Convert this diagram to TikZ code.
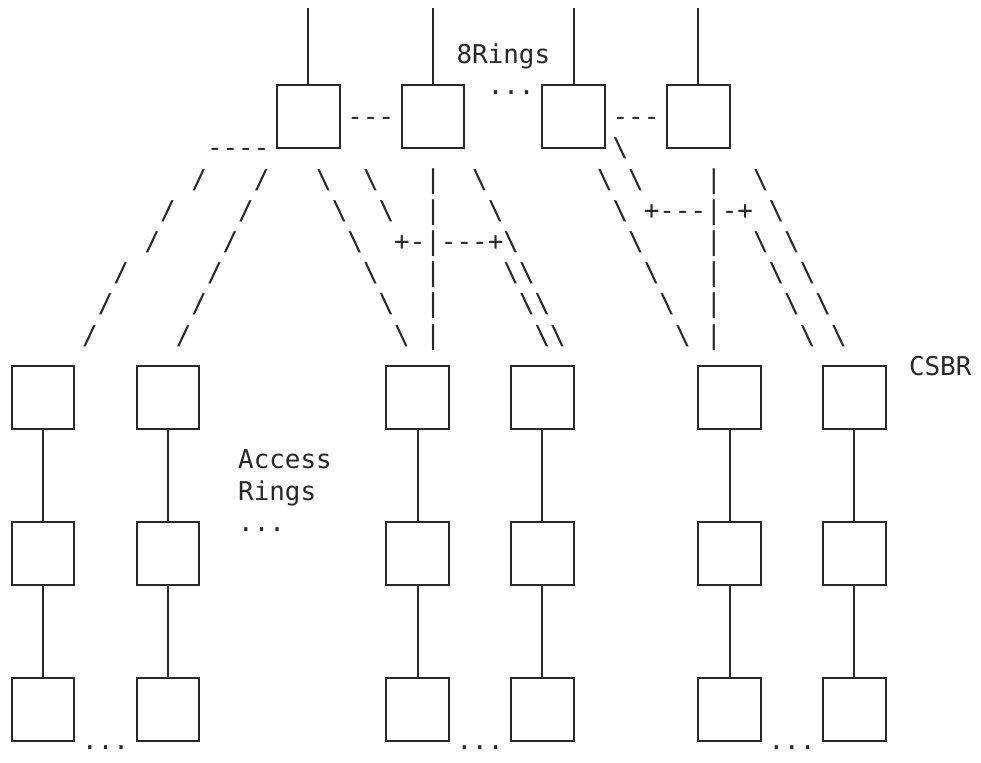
\documentclass[tikz,border=0pt]{standalone}
\usepackage{fontspec}
\setmonofont{DejaVu Sans Mono}
\definecolor{ink}{RGB}{40,40,40}
\tikzset{
  glyph/.style={font=\ttfamily\fontsize{25.9}{31.2}\selectfont, text=ink, inner sep=0pt, outer sep=0pt, anchor=base west},
  ringbox/.style={draw=ink, line width=2pt, rectangle, minimum width=62.4pt, minimum height=62.4pt, inner sep=0pt},
  link/.style={draw=ink, line width=2pt}
}
\newcommand\gl[3]{\node[glyph] (g-#1-#2) at ({4.2+15.6*#1},{32+31.2*#2}) {#3};}
\newcommand\bsl{\textbackslash}
\begin{document}
\begin{tikzpicture}[x=1pt,y=-1pt]
\useasboundingbox (0,0) rectangle (981,762);
% top ring boxes
\node[ringbox] (T1) at (308.4,116.6) {};
\node[ringbox] (T2) at (433.2,116.6) {};
\node[ringbox] (T3) at (573.6,116.6) {};
\node[ringbox] (T4) at (698.4,116.6) {};
\coordinate (u1) at (308.4,8);
\coordinate (u2) at (433.2,8);
\coordinate (u3) at (573.6,8);
\coordinate (u4) at (698.4,8);
\draw[link] (u1) -- (T1.north);
\draw[link] (u2) -- (T2.north);
\draw[link] (u3) -- (T3.north);
\draw[link] (u4) -- (T4.north);
% access ring chains
\foreach \n/\x in {a/43.2,b/168,c/417.6,d/542.4,e/729.6,f/854.4}{
  \node[ringbox] (\n1) at (\x,397.4) {};
  \node[ringbox] (\n2) at (\x,553.4) {};
  \node[ringbox] (\n3) at (\x,709.4) {};
  \draw[link] (\n1) -- (\n2);
  \draw[link] (\n2) -- (\n3);
}
% labels and ascii connectors
\gl{29}{1}{8Rings}
\gl{31}{2}{...}
\gl{22}{3}{---}
\gl{39}{3}{---}
\gl{13}{4}{----}
\gl{39}{4}{\bsl}
% row 5
\gl{12}{5}{/}\gl{16}{5}{/}\gl{20}{5}{\bsl}\gl{23}{5}{\bsl}\gl{27}{5}{|}\gl{30}{5}{\bsl}
\gl{38}{5}{\bsl}\gl{40}{5}{\bsl}\gl{45}{5}{|}\gl{48}{5}{\bsl}
% row 6
\gl{10}{6}{/}\gl{15}{6}{/}\gl{21}{6}{\bsl}\gl{24}{6}{\bsl}\gl{27}{6}{|}\gl{31}{6}{\bsl}
\gl{39}{6}{\bsl}\gl{41}{6}{+---|-+}\gl{49}{6}{\bsl}
% row 7
\gl{9}{7}{/}\gl{14}{7}{/}\gl{22}{7}{\bsl}\gl{25}{7}{+-|---+\bsl}
\gl{40}{7}{\bsl}\gl{45}{7}{|}\gl{48}{7}{\bsl}\gl{50}{7}{\bsl}
% row 8
\gl{7}{8}{/}\gl{13}{8}{/}\gl{23}{8}{\bsl}\gl{27}{8}{|}\gl{32}{8}{\bsl\bsl}
\gl{41}{8}{\bsl}\gl{45}{8}{|}\gl{49}{8}{\bsl}\gl{51}{8}{\bsl}
% row 9
\gl{6}{9}{/}\gl{12}{9}{/}\gl{24}{9}{\bsl}\gl{27}{9}{|}\gl{33}{9}{\bsl\bsl}
\gl{42}{9}{\bsl}\gl{45}{9}{|}\gl{50}{9}{\bsl}\gl{52}{9}{\bsl}
% row 10
\gl{5}{10}{/}\gl{11}{10}{/}\gl{25}{10}{\bsl}\gl{27}{10}{|}\gl{34}{10}{\bsl\bsl}
\gl{43}{10}{\bsl}\gl{45}{10}{|}\gl{51}{10}{\bsl}\gl{53}{10}{\bsl}
% side labels
\gl{58}{11}{CSBR}
\gl{15}{14}{Access}
\gl{15}{15}{Rings}
\gl{15}{16}{...}
\gl{5}{23}{...}
\gl{29}{23}{...}
\gl{49}{23}{...}
\end{tikzpicture}
\end{document}
